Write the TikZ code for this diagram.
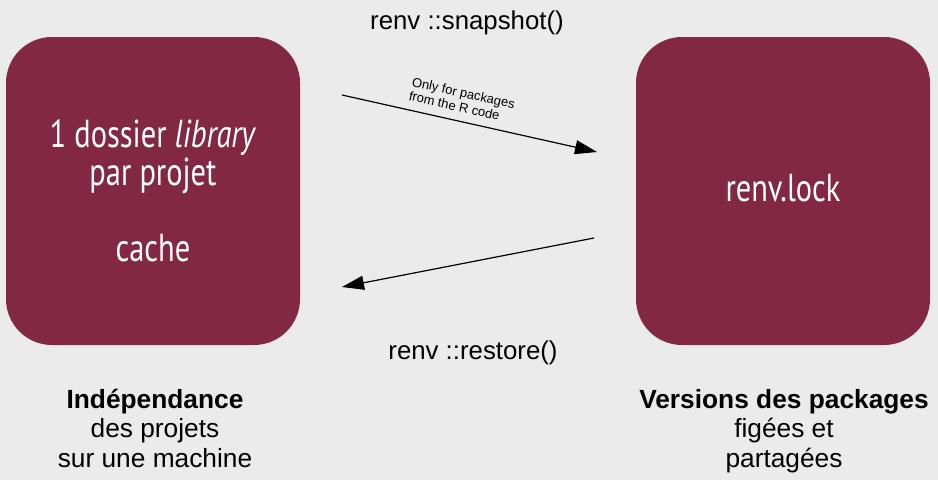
\documentclass[tikz,border=0pt]{standalone}
\usepackage{fontspec}
\setmainfont{Liberation Sans}
\newfontfamily\boxfont[FakeStretch=0.78]{PT Sans}
\usetikzlibrary{arrows.meta, positioning}
\definecolor{wine}{HTML}{832843}
\definecolor{bggray}{HTML}{EBEBEB}

\begin{document}
\begin{tikzpicture}[
    x=1pt, y=-1pt,
    >={Triangle[length=22pt, width=14pt]},
    blob/.style={rounded corners=46pt, fill=wine, minimum width=294pt,
                 minimum height=308pt, text=white, align=center,
                 font=\boxfont\fontsize{39}{38}\selectfont},
    cmd/.style={font=\fontsize{25.8}{30}\selectfont, inner sep=0pt, anchor=base},
    caption/.style={align=center, inner sep=0pt, anchor=north,
                    font=\fontsize{26.3}{29.5}\selectfont},
    flow/.style={->, line width=1.2pt},
]
  \fill[bggray, use as bounding box] (0,0) rectangle (938,480);

  \node[blob] (lib) at (153,191) {1 dossier \textit{library}\\par projet\\[38pt]cache};
  \node[blob] (lock) at (783,191) {\raisebox{7pt}{renv.lock}};

  \node[cmd] (snap) at (467,29) {renv ::snapshot()};
  \node[cmd] (rest) at (473,359) {renv ::restore()};

  \coordinate (snapA) at (342,95);
  \coordinate (snapB) at (597,152);
  \coordinate (restA) at (594,238);
  \coordinate (restB) at (342,287);
  \draw[flow] (snapA) -- (snapB);
  \draw[flow] (restA) -- (restB);
  \node[rotate=-12.6, align=left, inner sep=0pt, font=\fontsize{13}{14.5}\selectfont]
    (note) at (462,100) {Only for packages\\from the R code};

  \node[caption] (indep) at (155,389) {\textbf{Indépendance}\\des projets\\sur une machine};
  \node[caption] (vers) at (784,389) {\textbf{Versions des packages}\\figées et\\partagées};
\end{tikzpicture}
\end{document}
